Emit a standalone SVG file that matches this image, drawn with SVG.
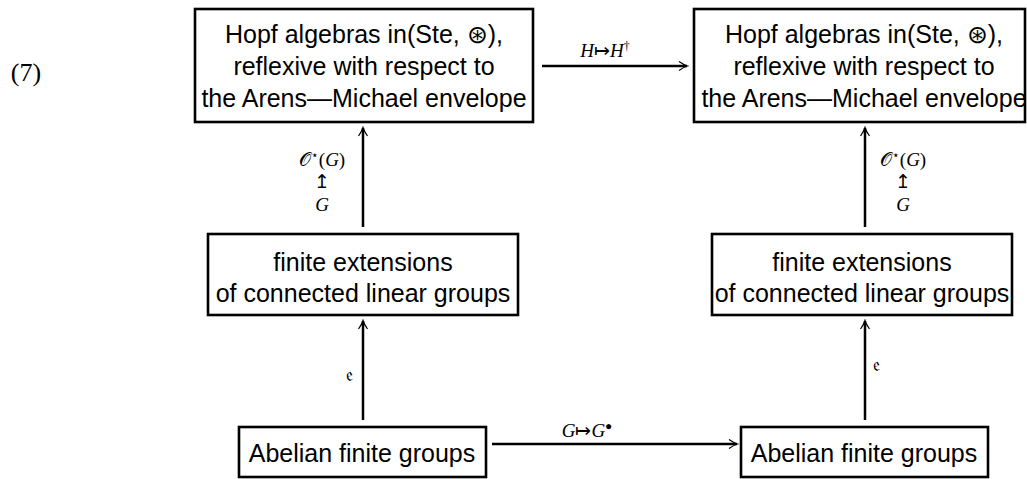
<svg xmlns="http://www.w3.org/2000/svg" width="1027" height="479" viewBox="0 0 1027 479">
<style>
.box{fill:#fff;stroke:#000;stroke-width:2.6}
.t{font-family:"Liberation Sans",Arial,sans-serif;font-size:25px;fill:#000;text-anchor:middle}
.m{font-family:"Liberation Serif","Times New Roman",serif;font-size:19px;fill:#000;text-anchor:middle}
.mi{font-style:italic}
.c{stroke:#000;stroke-width:2.5;fill:none}
</style>
<defs>
<marker id="ah" viewBox="0 0 12 12" refX="10" refY="6" markerWidth="12" markerHeight="12" markerUnits="userSpaceOnUse" orient="auto">
<path d="M2,1.5 Q7,5 10.5,6 Q7,7 2,10.5" fill="none" stroke="#000" stroke-width="1.2"/>
</marker>
</defs>
<text x="26" y="81" font-family="Liberation Serif,serif" font-size="26" text-anchor="middle">(7)</text>
<g id="connectors">
<line class="c" x1="542" y1="66" x2="687" y2="66" marker-end="url(#ah)"/>
<text class="m" x="605" y="57"><tspan class="mi">H</tspan>↦<tspan class="mi">H</tspan><tspan font-size="12" dy="-7">†</tspan></text>
<line class="c" x1="492" y1="444" x2="737" y2="444" marker-end="url(#ah)"/>
<text class="m" x="587" y="437"><tspan class="mi">G</tspan>↦<tspan class="mi">G</tspan><tspan font-size="12" dy="-7">●</tspan></text>
<line class="c" x1="363" y1="227" x2="363" y2="128" marker-end="url(#ah)"/>
<text class="m" x="322" y="166">𝒪<tspan font-size="12" dy="-7">⋆</tspan><tspan dy="7">(</tspan><tspan class="mi">G</tspan>)</text>
<text class="m" x="322" y="188">↥</text>
<text class="m mi" x="322" y="211">G</text>
<line class="c" x1="865" y1="227" x2="865" y2="128" marker-end="url(#ah)"/>
<text class="m" x="903" y="166">𝒪<tspan font-size="12" dy="-7">⋆</tspan><tspan dy="7">(</tspan><tspan class="mi">G</tspan>)</text>
<text class="m" x="903" y="188">↥</text>
<text class="m mi" x="903" y="211">G</text>
<line class="c" x1="363" y1="420" x2="363" y2="321" marker-end="url(#ah)"/>
<text class="m" x="349" y="381" font-size="22">𝔢</text>
<line class="c" x1="865" y1="420" x2="865" y2="321" marker-end="url(#ah)"/>
<text class="m" x="876" y="371" font-size="22">𝔢</text>
</g>
<g id="n1">
<rect class="box" x="195" y="9" width="338" height="113"/>
<text class="t" x="364" y="43">Hopf algebras in(Ste, ⊛),</text>
<text class="t" x="364" y="75">reflexive with respect to</text>
<text class="t" x="364" y="107">the Arens—Michael envelope</text>
</g>
<g id="n2">
<rect class="box" x="694" y="9" width="331" height="113"/>
<text class="t" x="864" y="43">Hopf algebras in(Ste, ⊛),</text>
<text class="t" x="864" y="75">reflexive with respect to</text>
<text class="t" x="864" y="107">the Arens—Michael envelope</text>
</g>
<g id="n3">
<rect class="box" x="208" y="234" width="310" height="81"/>
<text class="t" x="363" y="271">finite extensions</text>
<text class="t" x="363" y="302">of connected linear groups</text>
</g>
<g id="n4">
<rect class="box" x="712" y="234" width="300" height="81"/>
<text class="t" x="862" y="271">finite extensions</text>
<text class="t" x="862" y="302">of connected linear groups</text>
</g>
<g id="n5">
<rect class="box" x="239" y="427" width="247" height="50"/>
<text class="t" x="362" y="462">Abelian finite groups</text>
</g>
<g id="n6">
<rect class="box" x="741" y="427" width="247" height="50"/>
<text class="t" x="864" y="462">Abelian finite groups</text>
</g>
</svg>
